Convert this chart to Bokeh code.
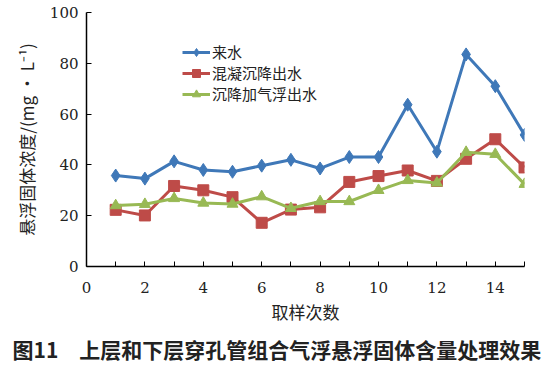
from bokeh.plotting import figure
from bokeh.models import Range1d, FixedTicker, Legend, LegendItem, Title
from bokeh.embed import file_html
from bokeh.resources import INLINE

samples = list(range(1, 16))
inflow = [35.8, 34.6, 41.4, 38.0, 37.3, 39.7, 42.0, 38.6, 43.1, 43.1, 63.7, 45.2, 83.5, 71.0, 51.8]
coag = [22.3, 20.1, 31.7, 30.0, 27.3, 17.2, 22.4, 23.3, 33.3, 35.6, 37.8, 33.7, 42.4, 50.1, 39.0]
flot = [24.0, 24.5, 26.8, 25.0, 24.6, 27.5, 22.9, 25.6, 25.6, 30.0, 33.9, 32.9, 45.0, 44.2, 32.4]
names = ["来水", "混凝沉降出水", "沉降加气浮出水"]
x_ticks = [0, 2, 4, 6, 8, 10, 12, 14]
y_ticks = [0, 20, 40, 60, 80, 100]

CJK = "Noto Sans CJK SC"
SERIF = "DejaVu Serif"

p = figure(width=550, height=369, output_backend="svg", toolbar_location=None,
           x_range=Range1d(0, 15), y_range=Range1d(0, 100),
           min_border_left=86, min_border_right=26, min_border_top=12, min_border_bottom=0)
p.outline_line_color = None
p.xgrid.visible = False
p.ygrid.visible = False

for ax in (p.xaxis[0], p.yaxis[0]):
    ax.axis_line_color = "#000000"
    ax.axis_line_width = 1.5
    ax.major_tick_out = 0
    ax.major_tick_in = 5
    ax.minor_tick_out = 0
    ax.minor_tick_in = 5
    ax.major_tick_line_color = "#000000"
    ax.minor_tick_line_color = "#000000"
    ax.major_label_text_font = SERIF
    ax.major_label_text_font_size = "15px"
    ax.major_label_text_color = "#222222"
    ax.axis_label_text_font = CJK
    ax.axis_label_text_font_style = "normal"
    ax.axis_label_text_font_size = "17px"
    ax.axis_label_text_color = "#222222"

p.xaxis.ticker = FixedTicker(ticks=x_ticks, minor_ticks=list(range(1, 16, 2)))
p.yaxis.ticker = FixedTicker(ticks=y_ticks, minor_ticks=[])
p.xaxis.major_label_standoff = 15
p.yaxis.major_label_standoff = 8
p.xaxis.axis_label = "取样次数"
p.xaxis.axis_label_standoff = 3
p.yaxis.axis_label = "悬浮固体浓度/(mg • L⁻¹)"
p.yaxis.axis_label_standoff = 8

cols = ["#3F78B8", "#BE4B48", "#98B954"]
r1 = p.line(samples, inflow, line_color=cols[0], line_width=3)
m1 = p.scatter(samples, inflow, marker="diamond", size=13, fill_color=cols[0], line_color=cols[0])
r2 = p.line(samples, coag, line_color=cols[1], line_width=3)
m2 = p.scatter(samples, coag, marker="square", size=11, fill_color=cols[1], line_color=cols[1])
r3 = p.line(samples, flot, line_color=cols[2], line_width=3)
m3 = p.scatter(samples, flot, marker="triangle", size=11, fill_color=cols[2], line_color=cols[2])

legend = Legend(items=[LegendItem(label=names[0], renderers=[r1, m1]),
                       LegendItem(label=names[1], renderers=[r2, m2]),
                       LegendItem(label=names[2], renderers=[r3, m3])],
                location=(96, 162), border_line_color=None, background_fill_alpha=0,
                label_text_font=CJK, label_text_font_size="15px", label_text_color="#222222",
                glyph_width=28, glyph_height=20, spacing=0, padding=0, margin=0,
                label_standoff=2, label_height=20)
p.add_layout(legend)

cap = Title(text="图11　上层和下层穿孔管组合气浮悬浮固体含量处理效果", align="left",
            text_font=CJK, text_font_style="bold", text_font_size="21px",
            text_color="#222222", offset=-74, standoff=11)
p.add_layout(cap, "below")

open("out.html", "w").write(file_html(p, INLINE))
